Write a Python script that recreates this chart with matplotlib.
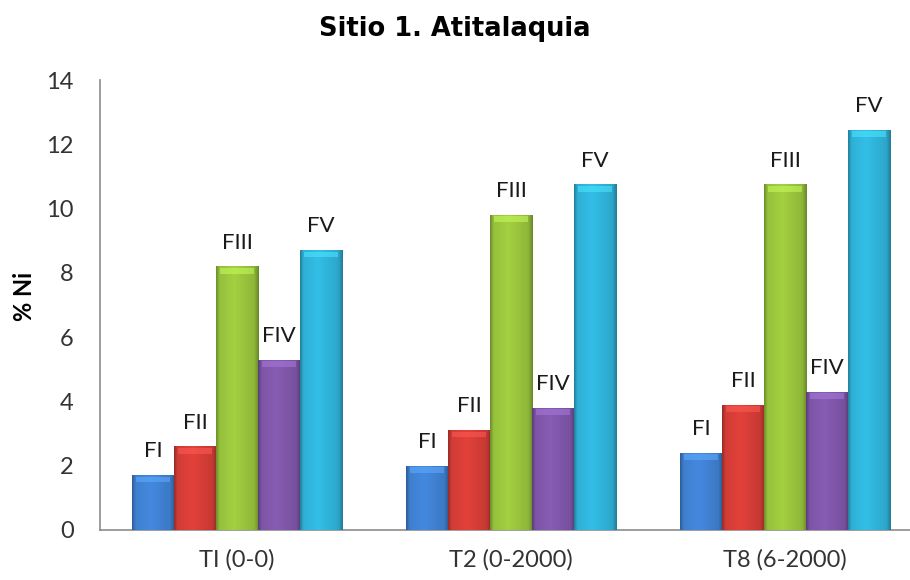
import numpy as np
import matplotlib
matplotlib.use("Agg")
import matplotlib.pyplot as plt
from matplotlib.colors import to_rgb

# datos
tratamientos = ["TI (0-0)", "T2 (0-2000)", "T8 (6-2000)"]
fracciones = ["FI", "FII", "FIII", "FIV", "FV"]
FI = [1.7, 2.0, 2.4]
FII = [2.6, 3.1, 3.9]
FIII = [8.2, 9.8, 10.75]
FIV = [5.3, 3.8, 4.3]
FV = [8.7, 10.75, 12.45]
colores = ["#3f7fcf", "#d23c36", "#96c13c", "#7d55a6", "#2fb0d6"]

plt.rcParams['font.family'] = ['Lato', 'DejaVu Sans']

fig = plt.figure(figsize=(9.1, 5.8), dpi=100)
ax = fig.add_axes([100/910, 50/580, 822/910, 450/580])

x = np.arange(len(tratamientos))
ancho = 0.1535
series = [FI, FII, FIII, FIV, FV]

# perfil horizontal para simular el bisel de excel
perfil = np.concatenate([np.linspace(0.72, 1.0, 8), np.linspace(1.0, 1.08, 30),
                         np.linspace(1.08, 0.95, 40), np.linspace(0.95, 0.7, 10)])

for i, (vals, col) in enumerate(zip(series, colores)):
    pos = x + (i - 2) * ancho
    barras = ax.bar(pos, vals, width=ancho, color=col, edgecolor="none", zorder=2)
    base = np.array(to_rgb(col))
    img = np.clip(perfil[:, None] * base[None, :], 0, 1)[None, :, :]
    for b, v in zip(barras, vals):
        x0 = b.get_x()
        w = b.get_width()
        im = ax.imshow(img, extent=[x0, x0 + w, 0, v], aspect="auto",
                       interpolation="bicubic", zorder=3)
        im.set_clip_path(b)
        # brillo superior
        ax.bar(x0 + w / 2, 0.18, width=w * 0.8, bottom=v - 0.22,
               color=np.clip(base * 1.2 + 0.08, 0, 1), edgecolor="none",
               alpha=0.55, zorder=4)
        ax.annotate(fracciones[i], (x0 + w / 2, v), xytext=(0, 10),
                    textcoords="offset points", ha="center", va="bottom",
                    fontsize=16, color="#1a1a1a")

ax.set_xlim(-0.5, 2.5)
ax.set_ylim(0, 14)
ax.set_yticks(np.arange(0, 15, 2))
ax.set_xticks(x)
ax.set_xticklabels(tratamientos)
ax.tick_params(axis="both", length=0, labelsize=17, labelcolor="#333333")
ax.tick_params(axis="x", pad=14)
ax.tick_params(axis="y", pad=19)
for s in ["top", "right"]:
    ax.spines[s].set_visible(False)
for s in ["left", "bottom"]:
    ax.spines[s].set_color("#8c8c8c")
    ax.spines[s].set_linewidth(1.2)

ax.set_ylabel("% Ni", fontsize=17, fontweight="bold")
ax.yaxis.set_label_coords(-0.078, 0.52)
fig.text(0.5, 1 - 29/580, "Sitio 1. Atitalaquia", ha="center", va="center",
         fontsize=18.5, fontweight="bold", family=["DejaVu Sans"])

fig.savefig("out.png", dpi=100)
